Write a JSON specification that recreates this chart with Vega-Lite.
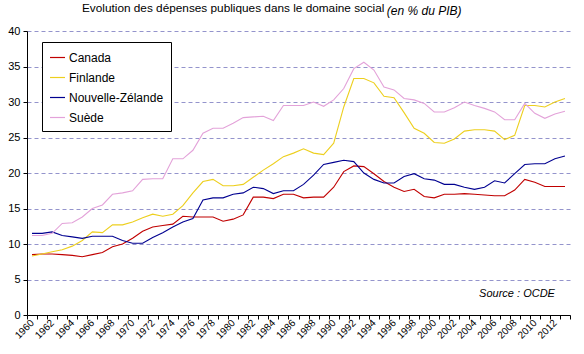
{
"$schema": "https://vega.github.io/schema/vega-lite/v6.json",
"width": 543, "height": 284,
"autosize": {"type": "none"},
"padding": {"left": 27, "top": 31, "right": 14, "bottom": 39},
"background": "white",
"config": {"font": "Liberation Sans", "view": {"stroke": null}},
"title": {"text": "Evolution des dépenses publiques dans le domaine social", "anchor": "start", "frame": "group", "dx": 55, "fontSize": 11.8, "fontWeight": "normal", "color": "black", "baseline": "middle", "offset": -15},
"datasets": {"d": [
{"a":1960,"p":"Canada","v":8.5},{"a":1961,"p":"Canada","v":8.6},{"a":1962,"p":"Canada","v":8.6},{"a":1963,"p":"Canada","v":8.5},{"a":1964,"p":"Canada","v":8.4},{"a":1965,"p":"Canada","v":8.2},{"a":1966,"p":"Canada","v":8.5},{"a":1967,"p":"Canada","v":8.8},{"a":1968,"p":"Canada","v":9.6},{"a":1969,"p":"Canada","v":10.0},
{"a":1970,"p":"Canada","v":10.8},{"a":1971,"p":"Canada","v":11.8},{"a":1972,"p":"Canada","v":12.4},{"a":1973,"p":"Canada","v":12.6},{"a":1974,"p":"Canada","v":12.8},{"a":1975,"p":"Canada","v":13.9},{"a":1976,"p":"Canada","v":13.8},{"a":1977,"p":"Canada","v":13.8},{"a":1978,"p":"Canada","v":13.8},{"a":1979,"p":"Canada","v":13.2},
{"a":1980,"p":"Canada","v":13.5},{"a":1981,"p":"Canada","v":14.1},{"a":1982,"p":"Canada","v":16.6},{"a":1983,"p":"Canada","v":16.6},{"a":1984,"p":"Canada","v":16.4},{"a":1985,"p":"Canada","v":17.0},{"a":1986,"p":"Canada","v":17.0},{"a":1987,"p":"Canada","v":16.5},{"a":1988,"p":"Canada","v":16.6},{"a":1989,"p":"Canada","v":16.6},
{"a":1990,"p":"Canada","v":18.0},{"a":1991,"p":"Canada","v":20.2},{"a":1992,"p":"Canada","v":21.0},{"a":1993,"p":"Canada","v":20.9},{"a":1994,"p":"Canada","v":19.9},{"a":1995,"p":"Canada","v":18.8},{"a":1996,"p":"Canada","v":18.0},{"a":1997,"p":"Canada","v":17.4},{"a":1998,"p":"Canada","v":17.7},{"a":1999,"p":"Canada","v":16.7},
{"a":2000,"p":"Canada","v":16.5},{"a":2001,"p":"Canada","v":17.0},{"a":2002,"p":"Canada","v":17.0},{"a":2003,"p":"Canada","v":17.1},{"a":2004,"p":"Canada","v":17.0},{"a":2005,"p":"Canada","v":16.9},{"a":2006,"p":"Canada","v":16.8},{"a":2007,"p":"Canada","v":16.8},{"a":2008,"p":"Canada","v":17.6},{"a":2009,"p":"Canada","v":19.1},
{"a":2010,"p":"Canada","v":18.7},{"a":2011,"p":"Canada","v":18.1},{"a":2012,"p":"Canada","v":18.1},{"a":2013,"p":"Canada","v":18.1},
{"a":1960,"p":"Finlande","v":8.3},{"a":1961,"p":"Finlande","v":8.6},{"a":1962,"p":"Finlande","v":8.9},{"a":1963,"p":"Finlande","v":9.2},{"a":1964,"p":"Finlande","v":9.7},{"a":1965,"p":"Finlande","v":10.5},{"a":1966,"p":"Finlande","v":11.7},{"a":1967,"p":"Finlande","v":11.6},{"a":1968,"p":"Finlande","v":12.7},{"a":1969,"p":"Finlande","v":12.7},
{"a":1970,"p":"Finlande","v":13.1},{"a":1971,"p":"Finlande","v":13.7},{"a":1972,"p":"Finlande","v":14.2},{"a":1973,"p":"Finlande","v":13.9},{"a":1974,"p":"Finlande","v":14.2},{"a":1975,"p":"Finlande","v":15.4},{"a":1976,"p":"Finlande","v":17.2},{"a":1977,"p":"Finlande","v":18.8},{"a":1978,"p":"Finlande","v":19.1},{"a":1979,"p":"Finlande","v":18.2},
{"a":1980,"p":"Finlande","v":18.2},{"a":1981,"p":"Finlande","v":18.4},{"a":1982,"p":"Finlande","v":19.4},{"a":1983,"p":"Finlande","v":20.4},{"a":1984,"p":"Finlande","v":21.3},{"a":1985,"p":"Finlande","v":22.3},{"a":1986,"p":"Finlande","v":22.8},{"a":1987,"p":"Finlande","v":23.4},{"a":1988,"p":"Finlande","v":22.8},{"a":1989,"p":"Finlande","v":22.6},
{"a":1990,"p":"Finlande","v":24.2},{"a":1991,"p":"Finlande","v":29.3},{"a":1992,"p":"Finlande","v":33.3},{"a":1993,"p":"Finlande","v":33.3},{"a":1994,"p":"Finlande","v":32.7},{"a":1995,"p":"Finlande","v":30.8},{"a":1996,"p":"Finlande","v":30.6},{"a":1997,"p":"Finlande","v":28.5},{"a":1998,"p":"Finlande","v":26.3},{"a":1999,"p":"Finlande","v":25.6},
{"a":2000,"p":"Finlande","v":24.3},{"a":2001,"p":"Finlande","v":24.2},{"a":2002,"p":"Finlande","v":24.8},{"a":2003,"p":"Finlande","v":25.9},{"a":2004,"p":"Finlande","v":26.1},{"a":2005,"p":"Finlande","v":26.1},{"a":2006,"p":"Finlande","v":25.9},{"a":2007,"p":"Finlande","v":24.7},{"a":2008,"p":"Finlande","v":25.3},{"a":2009,"p":"Finlande","v":29.5},
{"a":2010,"p":"Finlande","v":29.5},{"a":2011,"p":"Finlande","v":29.3},{"a":2012,"p":"Finlande","v":30.0},{"a":2013,"p":"Finlande","v":30.5},
{"a":1960,"p":"Nouvelle-Zélande","v":11.5},{"a":1961,"p":"Nouvelle-Zélande","v":11.5},{"a":1962,"p":"Nouvelle-Zélande","v":11.7},{"a":1963,"p":"Nouvelle-Zélande","v":11.2},{"a":1964,"p":"Nouvelle-Zélande","v":11.0},{"a":1965,"p":"Nouvelle-Zélande","v":10.8},{"a":1966,"p":"Nouvelle-Zélande","v":11.1},{"a":1967,"p":"Nouvelle-Zélande","v":11.1},{"a":1968,"p":"Nouvelle-Zélande","v":11.1},{"a":1969,"p":"Nouvelle-Zélande","v":10.5},
{"a":1970,"p":"Nouvelle-Zélande","v":10.1},{"a":1971,"p":"Nouvelle-Zélande","v":10.1},{"a":1972,"p":"Nouvelle-Zélande","v":10.9},{"a":1973,"p":"Nouvelle-Zélande","v":11.6},{"a":1974,"p":"Nouvelle-Zélande","v":12.4},{"a":1975,"p":"Nouvelle-Zélande","v":13.1},{"a":1976,"p":"Nouvelle-Zélande","v":13.6},{"a":1977,"p":"Nouvelle-Zélande","v":16.2},{"a":1978,"p":"Nouvelle-Zélande","v":16.5},{"a":1979,"p":"Nouvelle-Zélande","v":16.5},
{"a":1980,"p":"Nouvelle-Zélande","v":17.0},{"a":1981,"p":"Nouvelle-Zélande","v":17.2},{"a":1982,"p":"Nouvelle-Zélande","v":18.0},{"a":1983,"p":"Nouvelle-Zélande","v":17.8},{"a":1984,"p":"Nouvelle-Zélande","v":17.1},{"a":1985,"p":"Nouvelle-Zélande","v":17.5},{"a":1986,"p":"Nouvelle-Zélande","v":17.5},{"a":1987,"p":"Nouvelle-Zélande","v":18.4},{"a":1988,"p":"Nouvelle-Zélande","v":19.7},{"a":1989,"p":"Nouvelle-Zélande","v":21.2},
{"a":1990,"p":"Nouvelle-Zélande","v":21.5},{"a":1991,"p":"Nouvelle-Zélande","v":21.8},{"a":1992,"p":"Nouvelle-Zélande","v":21.6},{"a":1993,"p":"Nouvelle-Zélande","v":20.0},{"a":1994,"p":"Nouvelle-Zélande","v":19.1},{"a":1995,"p":"Nouvelle-Zélande","v":18.6},{"a":1996,"p":"Nouvelle-Zélande","v":18.6},{"a":1997,"p":"Nouvelle-Zélande","v":19.5},{"a":1998,"p":"Nouvelle-Zélande","v":19.9},{"a":1999,"p":"Nouvelle-Zélande","v":19.2},
{"a":2000,"p":"Nouvelle-Zélande","v":19.0},{"a":2001,"p":"Nouvelle-Zélande","v":18.4},{"a":2002,"p":"Nouvelle-Zélande","v":18.4},{"a":2003,"p":"Nouvelle-Zélande","v":18.0},{"a":2004,"p":"Nouvelle-Zélande","v":17.7},{"a":2005,"p":"Nouvelle-Zélande","v":18.0},{"a":2006,"p":"Nouvelle-Zélande","v":18.9},{"a":2007,"p":"Nouvelle-Zélande","v":18.6},{"a":2008,"p":"Nouvelle-Zélande","v":19.9},{"a":2009,"p":"Nouvelle-Zélande","v":21.2},
{"a":2010,"p":"Nouvelle-Zélande","v":21.3},{"a":2011,"p":"Nouvelle-Zélande","v":21.3},{"a":2012,"p":"Nouvelle-Zélande","v":22.0},{"a":2013,"p":"Nouvelle-Zélande","v":22.4},
{"a":1960,"p":"Suède","v":11.2},{"a":1961,"p":"Suède","v":11.2},{"a":1962,"p":"Suède","v":11.5},{"a":1963,"p":"Suède","v":12.9},{"a":1964,"p":"Suède","v":13.0},{"a":1965,"p":"Suède","v":13.8},{"a":1966,"p":"Suède","v":15.0},{"a":1967,"p":"Suède","v":15.5},{"a":1968,"p":"Suède","v":17.0},{"a":1969,"p":"Suède","v":17.2},
{"a":1970,"p":"Suède","v":17.5},{"a":1971,"p":"Suède","v":19.1},{"a":1972,"p":"Suède","v":19.2},{"a":1973,"p":"Suède","v":19.2},{"a":1974,"p":"Suède","v":22.0},{"a":1975,"p":"Suède","v":22.0},{"a":1976,"p":"Suède","v":23.2},{"a":1977,"p":"Suède","v":25.6},{"a":1978,"p":"Suède","v":26.3},{"a":1979,"p":"Suède","v":26.3},
{"a":1980,"p":"Suède","v":27.0},{"a":1981,"p":"Suède","v":27.8},{"a":1982,"p":"Suède","v":27.9},{"a":1983,"p":"Suède","v":28.0},{"a":1984,"p":"Suède","v":27.4},{"a":1985,"p":"Suède","v":29.5},{"a":1986,"p":"Suède","v":29.5},{"a":1987,"p":"Suède","v":29.5},{"a":1988,"p":"Suède","v":30.0},{"a":1989,"p":"Suède","v":29.4},
{"a":1990,"p":"Suède","v":30.3},{"a":1991,"p":"Suède","v":31.9},{"a":1992,"p":"Suède","v":34.7},{"a":1993,"p":"Suède","v":35.6},{"a":1994,"p":"Suède","v":34.5},{"a":1995,"p":"Suède","v":32.1},{"a":1996,"p":"Suède","v":31.7},{"a":1997,"p":"Suède","v":30.5},{"a":1998,"p":"Suède","v":30.3},{"a":1999,"p":"Suède","v":29.8},
{"a":2000,"p":"Suède","v":28.6},{"a":2001,"p":"Suède","v":28.6},{"a":2002,"p":"Suède","v":29.2},{"a":2003,"p":"Suède","v":30.0},{"a":2004,"p":"Suède","v":29.5},{"a":2005,"p":"Suède","v":29.1},{"a":2006,"p":"Suède","v":28.6},{"a":2007,"p":"Suède","v":27.5},{"a":2008,"p":"Suède","v":27.5},{"a":2009,"p":"Suède","v":29.8},
{"a":2010,"p":"Suède","v":28.4},{"a":2011,"p":"Suède","v":27.7},{"a":2012,"p":"Suède","v":28.3},{"a":2013,"p":"Suède","v":28.7}
]},
"encoding": {
  "x": {"field": "a", "type": "ordinal", "scale": {"type": "band", "paddingInner": 0, "paddingOuter": 0},
        "axis": {"title": null, "tickBand": "extent", "labelExpr": "datum.value % 2 == 0 ? datum.label : ''", "labelOverlap": false, "labelAngle": -45, "labelAlign": "right", "labelBaseline": "middle", "labelFontSize": 10, "labelColor": "black", "labelPadding": 2, "domainColor": "black", "tickColor": "black", "tickSize": 4, "grid": false}},
  "y": {"field": "v", "type": "quantitative", "scale": {"domain": [0, 40], "nice": false, "zero": true},
        "axis": {"title": null, "values": [0,5,10,15,20,25,30,35,40], "labelOverlap": false, "grid": true, "gridDash": [4,3], "gridColor": "#9494CC", "gridWidth": 1, "domainColor": "black", "tickColor": "black", "tickSize": 4, "labelFontSize": 11, "labelColor": "black", "labelPadding": 3}}
},
"layer": [
{"data": {"name": "d"},
 "mark": {"type": "line", "strokeWidth": 1.1},
 "encoding": {
  "color": {"field": "p", "type": "nominal",
        "scale": {"domain": ["Canada", "Finlande", "Nouvelle-Zélande", "Suède"], "range": ["#C00000", "#EDCF1E", "#000090", "#E3A2D9"]},
        "legend": {"title": null, "orient": "none", "legendX": 15, "legendY": 11, "fillColor": "white", "strokeColor": "black", "padding": 7, "symbolType": "stroke", "symbolSize": 225, "symbolStrokeWidth": 1.2, "labelFontSize": 12, "labelColor": "black", "labelOffset": 3, "rowPadding": 5}}
 }},
{"data": {"values": [{"a": 2012, "v": 2.95, "t": "Source : OCDE"}]},
 "mark": {"type": "text", "align": "right", "baseline": "middle", "fontStyle": "italic", "fontSize": 11, "color": "black"},
 "encoding": {"text": {"field": "t"}}},
{"data": {"values": [{"a": 1999, "v": 42.8, "t": "(en % du PIB)"}]},
 "mark": {"type": "text", "align": "center", "baseline": "middle", "fontStyle": "italic", "fontSize": 12, "color": "black"},
 "encoding": {"text": {"field": "t"}}}
]
}
